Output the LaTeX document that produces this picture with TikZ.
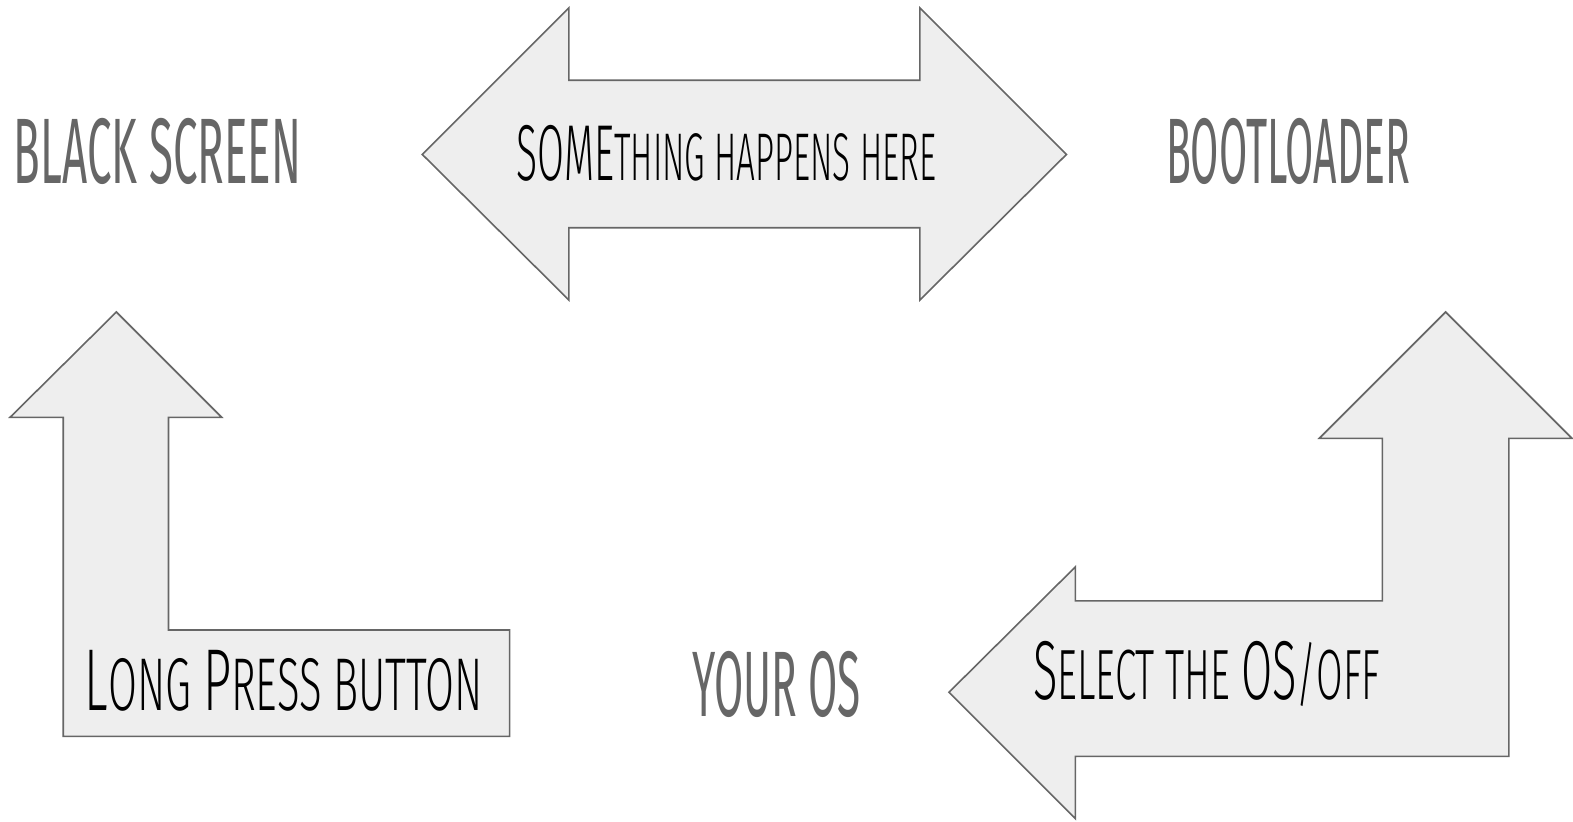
\documentclass[tikz,border=0pt]{standalone}
\usepackage{fontspec}
\setmainfont{Fira Sans}
\newfontfamily\thinfont{Fira Sans Light}
\usepackage{graphicx}
\definecolor{arrowfill}{HTML}{EEEEEE}
\definecolor{arrowline}{HTML}{666666}
\definecolor{titlegray}{HTML}{666666}
\newcommand\bcap[1]{{\fontsize{23.5}{28}\selectfont #1}}
\newcommand\scap{\fontsize{20}{24}\selectfont}
\begin{document}
\begin{tikzpicture}[x=0.5016pt,y=-0.5016pt,
  bigarrow/.style={fill=arrowfill,draw=arrowline,line width=0.8pt,line join=miter},
  titletext/.style={text=titlegray,inner sep=0pt,anchor=base,font=\fontsize{20}{24}\selectfont},
  arrowtext/.style={text=black,inner sep=0pt,anchor=base,font=\thinfont\scap}]
\useasboundingbox (0,0) rectangle (1568,818.4);

% double arrow top
\path[bigarrow] (421,154) -- (567,8) -- (567,80) -- (917,80) -- (917,8) -- (1063,154)
  -- (917,299) -- (917,227) -- (567,227) -- (567,299) -- cycle;

% left bent up arrow
\path[bigarrow] (116,311) -- (221,416) -- (168,416) -- (168,628) -- (508,628) -- (508,734)
  -- (63,734) -- (63,416) -- (10,416) -- cycle;

% right bent arrow
\path[bigarrow] (1441,311) -- (1567,437) -- (1504,437) -- (1504,754) -- (1072,754) -- (1072,816)
  -- (946,690) -- (1072,565) -- (1072,599) -- (1378,599) -- (1378,437) -- (1315,437) -- cycle;

% titles
\node[titletext] (black) at (157,183) {\resizebox{143.5pt}{32.6pt}{BLACK SCREEN}};
\node[titletext] (boot) at (1284,183) {\resizebox{122pt}{32.6pt}{BOOTLOADER}};
\node[titletext] (os) at (774,714) {\resizebox{84.3pt}{32.6pt}{YOUR OS}};

% arrow labels
\node[arrowtext] (happens) at (724,180) {\resizebox{209.7pt}{27.6pt}{\bcap{SOME}THING HAPPENS HERE}};
\node[arrowtext] (press) at (283,708) {\resizebox{199pt}{30.1pt}{\bcap{L}ONG \bcap{P}RESS BUTTON}};
\node[arrowtext] (select) at (1203,697) {\resizebox{173.5pt}{29.1pt}{\bcap{S}ELECT THE \bcap{OS}\smash{/}OFF}};
\end{tikzpicture}
\end{document}
